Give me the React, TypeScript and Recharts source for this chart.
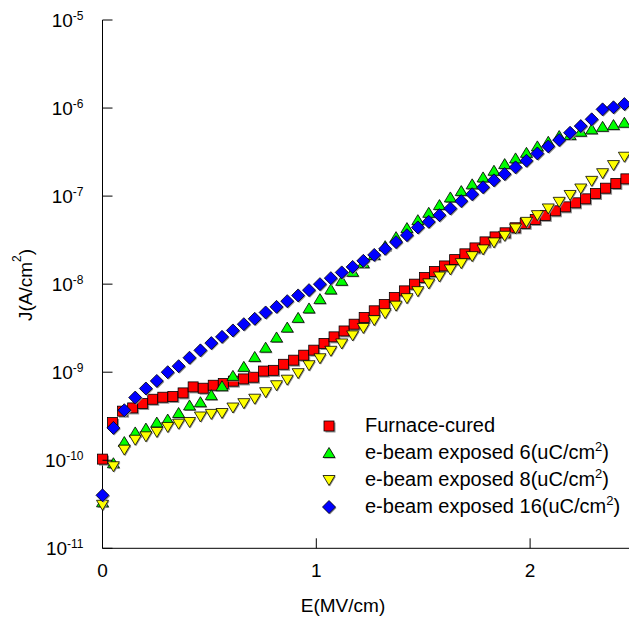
import React from 'react';
import { ScatterChart, Scatter, XAxis, YAxis } from 'recharts';

const FONT = "'Liberation Sans', Arial, Helvetica, sans-serif";

// E (MV/cm) for the furnace-cured series
const redE = [0, 0.047, 0.094, 0.141, 0.188, 0.235, 0.282, 0.329, 0.377, 0.424, 0.471, 0.518, 0.565, 0.612, 0.659, 0.706, 0.753, 0.8, 0.847, 0.894, 0.941, 0.988, 1.036, 1.083, 1.13, 1.177, 1.224, 1.271, 1.318, 1.365, 1.412, 1.459, 1.506, 1.553, 1.6, 1.647, 1.695, 1.742, 1.789, 1.836, 1.883, 1.93, 1.977, 2.024, 2.071, 2.118, 2.165, 2.212, 2.259, 2.306, 2.353, 2.401, 2.448];
// J (A/cm2) furnace-cured
const redJ = [1.03e-10, 2.68e-10, 3.61e-10, 3.93e-10, 4.41e-10, 4.93e-10, 5.2e-10, 5.3e-10, 5.82e-10, 6.81e-10, 6.58e-10, 7.11e-10, 7.43e-10, 7.91e-10, 8.39e-10, 8.77e-10, 1.03e-9, 1.05e-9, 1.23e-9, 1.37e-9, 1.56e-9, 1.78e-9, 2.12e-9, 2.52e-9, 2.94e-9, 3.51e-9, 4.19e-9, 4.98e-9, 5.87e-9, 7.06e-9, 8.39e-9, 1.0e-8, 1.19e-8, 1.39e-8, 1.61e-8, 1.9e-8, 2.21e-8, 2.58e-8, 3.02e-8, 3.44e-8, 3.83e-8, 4.37e-8, 4.9e-8, 5.43e-8, 6.04e-8, 6.81e-8, 7.55e-8, 8.39e-8, 9.31e-8, 1.07e-7, 1.23e-7, 1.39e-7, 1.57e-7];

// E (MV/cm) for the e-beam exposed series
const eBeamE = [0, 0.051, 0.102, 0.153, 0.203, 0.254, 0.305, 0.356, 0.407, 0.458, 0.509, 0.559, 0.61, 0.661, 0.712, 0.763, 0.814, 0.864, 0.915, 0.966, 1.017, 1.068, 1.119, 1.17, 1.22, 1.271, 1.322, 1.373, 1.424, 1.475, 1.526, 1.576, 1.627, 1.678, 1.729, 1.78, 1.831, 1.881, 1.932, 1.983, 2.034, 2.085, 2.136, 2.187, 2.237, 2.288, 2.339, 2.39, 2.441];

const green6J = [3.33e-11, 9.25e-11, 1.61e-10, 2.07e-10, 2.29e-10, 2.68e-10, 2.9e-10, 3.44e-10, 4.19e-10, 4.56e-10, 5.48e-10, 6.93e-10, 9.08e-10, 1.15e-9, 1.49e-9, 1.9e-9, 2.48e-9, 3.21e-9, 4.14e-9, 5.3e-9, 6.76e-9, 8.71e-9, 1.09e-8, 1.38e-8, 1.73e-8, 2.14e-8, 2.7e-8, 3.42e-8, 4.33e-8, 5.33e-8, 6.46e-8, 7.91e-8, 9.66e-8, 1.14e-7, 1.36e-7, 1.63e-7, 1.94e-7, 2.31e-7, 2.68e-7, 3.1e-7, 3.67e-7, 4.14e-7, 4.81e-7, 4.93e-7, 5.38e-7, 5.73e-7, 6.12e-7, 6.41e-7, 6.81e-7];

const yellow8J = [3.12e-11, 8.55e-11, 1.32e-10, 1.71e-10, 1.87e-10, 2.1e-10, 2.39e-10, 2.6e-10, 2.72e-10, 3.14e-10, 3.36e-10, 3.44e-10, 3.97e-10, 4.45e-10, 5.0e-10, 5.93e-10, 7.11e-10, 8.22e-10, 9.75e-10, 1.2e-9, 1.44e-9, 1.75e-9, 2.12e-9, 2.62e-9, 3.18e-9, 3.9e-9, 4.68e-9, 5.7e-9, 6.93e-9, 8.32e-9, 1.02e-8, 1.22e-8, 1.47e-8, 1.73e-8, 2.08e-8, 2.48e-8, 2.98e-8, 3.54e-8, 4.3e-8, 5.1e-8, 6.08e-8, 7.24e-8, 8.61e-8, 1.03e-7, 1.22e-7, 1.49e-7, 1.82e-7, 2.25e-7, 2.8e-7];

const blue16J = [4.0e-11, 2.33e-10, 3.7e-10, 5.15e-10, 6.53e-10, 7.96e-10, 1.0e-9, 1.17e-9, 1.46e-9, 1.77e-9, 2.14e-9, 2.52e-9, 2.98e-9, 3.51e-9, 4.04e-9, 4.77e-9, 5.52e-9, 6.41e-9, 7.45e-9, 8.55e-9, 1.0e-8, 1.17e-8, 1.36e-8, 1.57e-8, 1.84e-8, 2.15e-8, 2.52e-8, 3.0e-8, 3.6e-8, 4.41e-8, 5.1e-8, 6.08e-8, 7.24e-8, 8.77e-8, 1.05e-7, 1.26e-7, 1.51e-7, 1.78e-7, 2.12e-7, 2.52e-7, 3.05e-7, 3.67e-7, 4.33e-7, 5.24e-7, 6.24e-7, 7.45e-7, 9.66e-7, 1.02e-6, 1.11e-6];

const xTicks = [0, 1, 2];
const yTicks = [1e-11, 1e-10, 1e-9, 1e-8, 1e-7, 1e-6, 1e-5];

const legendNames = ['Furnace-cured', 'e-beam exposed 6(uC/cm', 'e-beam exposed 8(uC/cm', 'e-beam exposed 16(uC/cm'];
const legendSup = ['', '2', '2', '2'];

const toPts = (xs: number[], ys: number[]) => xs.map((x, i) => ({ x, y: ys[i] }));
const redData = toPts(redE, redJ);
const greenData = toPts(eBeamE, green6J);
const yellowData = toPts(eBeamE, yellow8J);
const blueData = toPts(eBeamE, blue16J);

const SH = '#8f8f8f';

function Square({ cx, cy }: any) {
  return (
    <g>
      <rect x={cx - 5 + 1.5} y={cy - 5 + 1.5} width={10} height={10} fill={SH} />
      <rect x={cx - 5} y={cy - 5} width={10} height={10} fill="#FF0000" stroke="#000" strokeWidth={0.8} />
    </g>
  );
}
function TriUp({ cx, cy }: any) {
  const p = (dx: number, dy: number) => `${cx - 6 + dx},${cy + 4.5 + dy} ${cx + 6 + dx},${cy + 4.5 + dy} ${cx + dx},${cy - 5.5 + dy}`;
  return (
    <g>
      <polygon points={p(1, 1)} fill={SH} />
      <polygon points={p(0, 0)} fill="#00FF00" stroke="#000" strokeWidth={0.8} strokeLinejoin="miter" />
    </g>
  );
}
function TriDown({ cx, cy }: any) {
  const p = (dx: number, dy: number) => `${cx - 6 + dx},${cy - 4.5 + dy} ${cx + 6 + dx},${cy - 4.5 + dy} ${cx + dx},${cy + 5.5 + dy}`;
  return (
    <g>
      <polygon points={p(1, 1)} fill={SH} />
      <polygon points={p(0, 0)} fill="#FFFF00" stroke="#000" strokeWidth={0.8} />
    </g>
  );
}
function Diamond({ cx, cy }: any) {
  const p = (dx: number, dy: number) => `${cx + dx},${cy - 6.5 + dy} ${cx + 6.5 + dx},${cy + dy} ${cx + dx},${cy + 6.5 + dy} ${cx - 6.5 + dx},${cy + dy}`;
  return (
    <g>
      <polygon points={p(1, 1)} fill={SH} />
      <polygon points={p(0, 0)} fill="#0000FF" stroke="#000" strokeWidth={0.8} />
    </g>
  );
}

const shapes = [Square, TriUp, TriDown, Diamond];

function YTick(props: any) {
  const { x, y, payload } = props;
  const exp = Math.round(Math.log10(payload.value));
  return (
    <g>
      <line x1={x} y1={y} x2={x + 10} y2={y} stroke="#000" strokeWidth={1} />
      <text x={x - 19} y={y + 7} textAnchor="end" fontSize={19} fontFamily={FONT} fill="#000">
        <tspan>10</tspan>
        <tspan dy={-7} fontSize={12}>{String(exp)}</tspan>
      </text>
    </g>
  );
}

function XTick(props: any) {
  const { x, y, payload } = props;
  return (
    <g>
      <line x1={x} y1={y} x2={x} y2={y - 10} stroke="#000" strokeWidth={1} />
      <text x={x} y={y + 29} textAnchor="middle" fontSize={19} fontFamily={FONT} fill="#000">
        {String(payload.value)}
      </text>
    </g>
  );
}

export default function App() {
  return (
    <div style={{ position: 'absolute', left: 0, top: 0, width: 629, height: 621, overflow: 'hidden', background: '#fff' }}>
      <ScatterChart width={642} height={621} margin={{ top: 20, right: 5, bottom: 0, left: 0 }}>
        <XAxis
          xAxisId="top"
          orientation="top"
          type="number"
          domain={[0, 2.5]}
          height={0}
          tick={false}
          tickLine={false}
          axisLine={{ stroke: '#000', strokeWidth: 1 }}
        />
        <XAxis
          dataKey="x"
          type="number"
          domain={[0, 2.5]}
          ticks={xTicks}
          height={72.7}
          tickSize={0}
          tickMargin={0}
          tickLine={false}
          tick={<XTick />}
          axisLine={{ stroke: '#000', strokeWidth: 1 }}
        />
        <YAxis
          dataKey="y"
          type="number"
          scale="log"
          domain={[1e-11, 1e-5]}
          ticks={yTicks}
          width={102.5}
          tickSize={0}
          tickMargin={0}
          tickLine={false}
          tick={<YTick />}
          axisLine={{ stroke: '#000', strokeWidth: 1 }}
        />
        <Scatter data={redData} isAnimationActive={false} shape={(p: any) => <Square cx={p.cx} cy={p.cy} />} />
        <Scatter data={greenData} isAnimationActive={false} shape={(p: any) => <TriUp cx={p.cx} cy={p.cy} />} />
        <Scatter data={yellowData} isAnimationActive={false} shape={(p: any) => <TriDown cx={p.cx} cy={p.cy} />} />
        <Scatter data={blueData} isAnimationActive={false} shape={(p: any) => <Diamond cx={p.cx} cy={p.cy} />} />
        <text x={32} y={285} transform="rotate(-90 32 285)" textAnchor="middle" fontSize={19} fontFamily={FONT} fill="#000">
          <tspan>J(A/cm</tspan>
          <tspan dy={-11} fontSize={12}>2</tspan>
          <tspan dy={11}>)</tspan>
        </text>
        <text x={343} y={612} textAnchor="middle" fontSize={19} fontFamily={FONT} fill="#000">
          E(MV/cm)
        </text>
      </ScatterChart>
      <div style={{ position: 'absolute', left: 321, top: 412, fontFamily: FONT, fontSize: 20, color: '#000' }}>
        {legendNames.map((name, i) => {
          const Shape = shapes[i];
          return (
            <div key={name} style={{ display: 'flex', alignItems: 'center', height: 27, whiteSpace: 'nowrap' }}>
              <svg width={16} height={16} style={{ flex: 'none' }}>
                <Shape cx={8} cy={8} />
              </svg>
              <span style={{ marginLeft: 28, lineHeight: '27px' }}>
                {name}
                {legendSup[i] ? <sup style={{ fontSize: 13, lineHeight: 0 }}>{legendSup[i]}</sup> : null}
                {legendSup[i] ? ')' : ''}
              </span>
            </div>
          );
        })}
      </div>
    </div>
  );
}
